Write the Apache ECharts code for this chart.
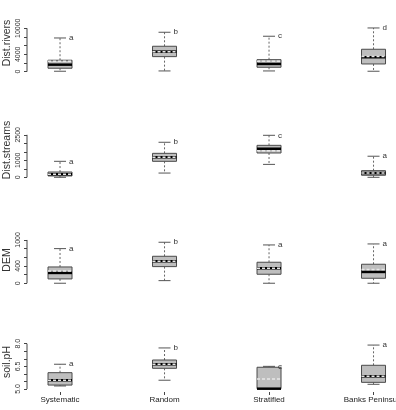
<!DOCTYPE html>
<html><head><meta charset="utf-8">
<script src="https://cdn.jsdelivr.net/npm/echarts@6/dist/echarts.min.js"></script>
<style>html,body{margin:0;padding:0;background:#fff}#c{width:396px;height:410px}</style>
</head><body><div id="c"></div>
<script>
// ---- data ----
const categories = ['Systematic', 'Random', 'Stratified', 'Banks Peninsula'];
const panelNames = ['Dist.rivers', 'Dist.streams', 'DEM', 'soil.pH'];

// [lower whisker, Q1, median, Q3, upper whisker]
const riversStats = [[90, 780, 1610, 2630, 7760], [160, 3460, 4610, 5850, 9080], [160, 1010, 1770, 2760, 8160], [90, 1770, 3320, 5160, 10070]];
const riversMeans = [2400, 4610, 2400, 3500];
const riversLetters = ['a', 'b', 'c', 'd'];
const riversTicks = [0, 2000, 4000, 6000, 8000, 10000];
const riversLabels = [0, 4000, 10000];

const streamsStats = [[0, 80, 180, 310, 940], [250, 940, 1180, 1410, 2060], [760, 1430, 1680, 1880, 2470], [0, 120, 250, 390, 1240]];
const streamsMeans = [180, 1180, 1565, 250];
const streamsLetters = ['a', 'b', 'c', 'a'];
const streamsTicks = [0, 500, 1000, 1500, 2000, 2500];
const streamsLabels = [0, 1000, 2500];

const demStats = [[0, 100, 238, 376, 800], [60, 384, 508, 623, 947], [0, 208, 346, 485, 885], [0, 115, 261, 439, 908]];
const demMeans = [280, 508, 346, 320];
const demLetters = ['a', 'b', 'a', 'a'];
const demTicks = [0, 200, 400, 600, 800, 1000];
const demLabels = [0, 400, 1000];

const phStats = [[5.20, 5.26, 5.58, 6.08, 6.64], [5.58, 6.37, 6.64, 6.92, 7.72], [5.02, 5.02, 5.02, 6.44, 6.50], [5.31, 5.44, 5.84, 6.57, 7.91]];
const phMeans = [5.58, 6.64, 5.66, 5.84];
const phLetters = ['a', 'b', 'c', 'a'];
const phTicks = [5.0, 5.5, 6.0, 6.5, 7.0, 7.5, 8.0];
const phLabels = [5.0, 6.5, 8.0];

// ---- layout ----
const panels = [
  {stats: riversStats, means: riversMeans, letters: riversLetters, ticks: riversTicks, labels: riversLabels, min: -500, max: 10500, top: 26.1, height: 47.7, dec: 0, titleY: 43},
  {stats: streamsStats, means: streamsMeans, letters: streamsLetters, ticks: streamsTicks, labels: streamsLabels, min: -100, max: 2600, top: 133.1, height: 45.9, dec: 0, titleY: 150},
  {stats: demStats, means: demMeans, letters: demLetters, ticks: demTicks, labels: demLabels, min: -50, max: 1050, top: 237.8, height: 47.6, dec: 0, titleY: 260},
  {stats: phStats, means: phMeans, letters: phLetters, ticks: phTicks, labels: phLabels, min: 4.8, max: 8.2, top: 340.7, height: 51.3, dec: 1, titleY: 362}
];
const XMIN = 0.684, XMAX = 4.5, GRID_LEFT = 27, PX_PER_CAT = 104.5;
const FONT = 'Liberation Sans, Arial, Helvetica, sans-serif';

const grids = [], xAxes = [], yAxes = [], series = [], graphics = [];
panels.forEach((p, i) => {
  grids.push({left: GRID_LEFT, top: p.top, width: (XMAX - XMIN) * PX_PER_CAT, height: p.height,
    outerBoundsMode: 'none', containLabel: false});
  const last = i === panels.length - 1;
  xAxes.push({
    gridIndex: i, type: 'value', min: XMIN, max: XMAX, show: last,
    axisLine: {show: false}, splitLine: {show: false},
    axisTick: {show: last, customValues: [1, 2, 3, 4], length: 3, lineStyle: {color: '#444', width: 1}},
    axisLabel: {show: last, customValues: [1, 2, 3, 4], formatter: v => categories[Math.round(v) - 1],
      fontSize: 8, color: '#222', margin: 4, fontFamily: FONT}
  });
  yAxes.push({
    gridIndex: i, type: 'value', min: p.min, max: p.max,
    axisLine: {show: false}, splitLine: {show: false},
    axisTick: {show: true, customValues: p.ticks, length: 3, lineStyle: {color: '#444', width: 1}},
    axisLabel: {customValues: p.labels, rotate: 90, fontSize: 7, color: '#333', margin: 5, fontFamily: FONT,
      formatter: v => Number(v).toFixed(p.dec)}
  });
  // y axis line from first to last tick
  series.push({
    type: 'custom', xAxisIndex: i, yAxisIndex: i, clip: false, silent: true,
    data: [[XMIN, p.ticks[0], p.ticks[p.ticks.length - 1]]],
    renderItem: (params, api) => {
      const x = params.coordSys.x;
      const y1 = api.coord([XMIN, api.value(1)])[1];
      const y2 = api.coord([XMIN, api.value(2)])[1];
      return {type: 'line', shape: {x1: x, y1: y1, x2: x, y2: y2}, style: {stroke: '#444', lineWidth: 1}};
    }
  });
  // boxes
  series.push({
    type: 'custom', xAxisIndex: i, yAxisIndex: i, clip: false, silent: true,
    data: p.stats.map((s, k) => [k + 1, s[0], s[1], s[2], s[3], s[4], p.means[k]]),
    renderItem: (params, api) => {
      const xv = api.value(0);
      const Y = v => api.coord([xv, v])[1];
      const cx = api.coord([xv, 0])[0];
      const yLo = Y(api.value(1)), yQ1 = Y(api.value(2)), yMed = Y(api.value(3)),
            yQ3 = Y(api.value(4)), yHi = Y(api.value(5)), yMean = Y(api.value(6));
      const hw = 12, cw = 6;
      const whisk = {stroke: '#666', lineWidth: 1, lineDash: [2, 2]};
      const cap = {stroke: '#555', lineWidth: 1};
      return {type: 'group', children: [
        {type: 'line', shape: {x1: cx, y1: yQ3, x2: cx, y2: yHi}, style: whisk},
        {type: 'line', shape: {x1: cx, y1: yQ1, x2: cx, y2: yLo}, style: whisk},
        {type: 'line', shape: {x1: cx - cw, y1: yHi, x2: cx + cw, y2: yHi}, style: cap},
        {type: 'line', shape: {x1: cx - cw, y1: yLo, x2: cx + cw, y2: yLo}, style: cap},
        {type: 'rect', shape: {x: cx - hw, y: yQ3, width: 2 * hw, height: Math.max(yQ1 - yQ3, 0.5)},
          style: {fill: '#bebebe', stroke: '#4a4a4a', lineWidth: 1}},
        {type: 'line', shape: {x1: cx - hw, y1: yMed, x2: cx + hw, y2: yMed}, style: {stroke: '#000', lineWidth: 2.5}},
        {type: 'line', shape: {x1: cx - hw, y1: yMean, x2: cx + hw, y2: yMean},
          style: {stroke: '#e8e8e8', lineWidth: 1.5, lineDash: [3, 2]}},
        {type: 'text', x: cx + cw + 3, y: yHi,
          style: {text: p.letters[params.dataIndex], fontSize: 8, fill: '#333', verticalAlign: 'middle', align: 'left', fontFamily: FONT}}
      ]};
    }
  });
  graphics.push({type: 'text', x: 7, y: p.titleY, rotation: Math.PI / 2,
    style: {text: panelNames[i], fontSize: 10.5, fill: '#333', align: 'center', verticalAlign: 'middle', fontFamily: FONT}});
});

const chart = echarts.init(document.getElementById('c'), null, {renderer: 'canvas'});
chart.setOption({
  animation: false,
  backgroundColor: '#fff',
  grid: grids, xAxis: xAxes, yAxis: yAxes, series: series, graphic: graphics
});
</script></body></html>
